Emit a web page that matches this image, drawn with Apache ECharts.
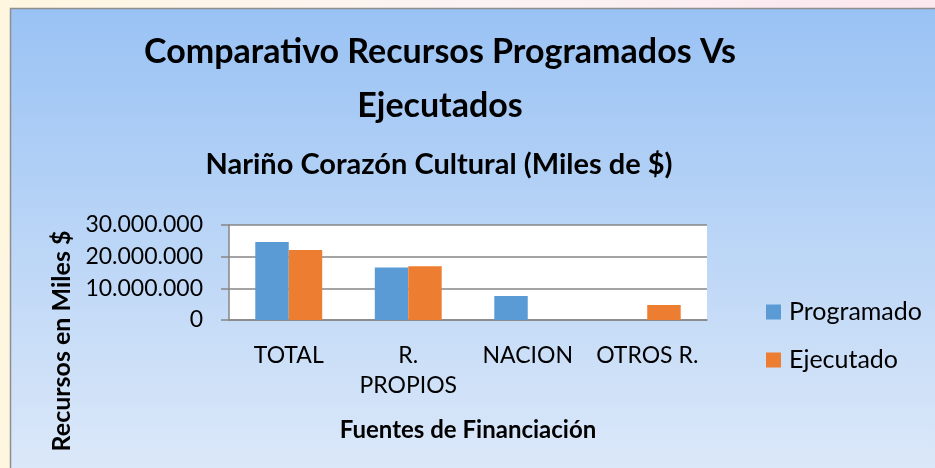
<!DOCTYPE html>
<html>
<head>
<meta charset="utf-8">
<script src="https://cdn.jsdelivr.net/npm/echarts@6/dist/echarts.min.js"></script>
<style>
  html, body { margin: 0; padding: 0; background: #fffdf7; }
  #chart { width: 935px; height: 468px; }
</style>
</head>
<body>
<div id="chart"></div>
<script>
// Funding sources and amounts (miles de $)
const categories = ['TOTAL', 'R.\nPROPIOS', 'NACION', 'OTROS R.'];
const programado = [24600000, 16600000, 7600000, 0];
const ejecutado = [22100000, 17000000, 0, 4700000];
const seriesNames = ['Programado', 'Ejecutado'];

const FONT = 'Lato, "Open Sans", sans-serif';

// 30000000 -> "30.000.000"
function miles(v) {
  return String(Math.round(v)).replace(/\B(?=(\d{3})+(?!\d))/g, '.');
}

const chart = echarts.init(document.getElementById('chart'), null, { renderer: 'canvas' });

chart.setOption({
  animation: false,
  backgroundColor: 'transparent',
  textStyle: { fontFamily: FONT },
  graphic: [
    // page strips around the chart frame
    { type: 'rect', z: -10, shape: { x: 0, y: 0, width: 935, height: 468 },
      style: { fill: new echarts.graphic.LinearGradient(0, 0, 1, 0, [
        { offset: 0, color: '#fff6e0' }, { offset: 0.5, color: '#fbf3f4' }, { offset: 1, color: '#fbe7ee' }
      ]) } },
    // chart frame with blue gradient
    { type: 'rect', z: -9, shape: { x: 10.5, y: 8.5, width: 940, height: 470 },
      style: { stroke: '#8e8e8e', lineWidth: 1.5,
        fill: new echarts.graphic.LinearGradient(0, 0, 0, 1, [
          { offset: 0, color: '#99c2f4' }, { offset: 1, color: '#dde9f9' }
        ]) } },
    // plot area background
    { type: 'rect', z: -8, shape: { x: 229, y: 225, width: 478, height: 95 },
      style: { fill: '#ffffff' } },
    // value axis title
    { type: 'text', x: 62, y: 341, rotation: Math.PI / 2,
      style: { text: 'Recursos en Miles $', fontFamily: FONT, fontWeight: 'bold', fontSize: 25,
        fill: '#000000', align: 'center', verticalAlign: 'middle' } }
  ],
  title: [
    { text: 'Comparativo Recursos Programados Vs\nEjecutados', left: 435, top: 20, textAlign: 'center',
      textStyle: { fontFamily: FONT, fontWeight: 'bold', fontSize: 34, lineHeight: 54, color: '#000000' } },
    { text: 'Nariño Corazón Cultural (Miles de $)', left: 434, top: 143, textAlign: 'center',
      textStyle: { fontFamily: FONT, fontWeight: 'bold', fontSize: 29, lineHeight: 34, color: '#000000' } }
  ],
  legend: {
    orient: 'vertical', left: 761, top: 293, itemGap: 20,
    itemWidth: 15, itemHeight: 15, icon: 'rect',
    data: seriesNames,
    textStyle: { fontFamily: FONT, fontSize: 25, lineHeight: 28, color: '#000000', padding: [0, 0, 0, 3] }
  },
  grid: { left: 229, right: 228, top: 225, bottom: 148, containLabel: false },
  xAxis: {
    type: 'category', data: categories,
    axisLine: { lineStyle: { color: '#868686', width: 1.5 } },
    axisTick: { show: false },
    axisLabel: { color: '#000000', fontSize: 23, lineHeight: 30, margin: 21, interval: 0 },
    name: 'Fuentes de Financiación', nameLocation: 'middle', nameGap: 98,
    nameTextStyle: { fontFamily: FONT, fontWeight: 'bold', fontSize: 24, color: '#000000' }
  },
  yAxis: {
    type: 'value', min: 0, max: 30000000, interval: 10000000,
    axisLine: { show: true, lineStyle: { color: '#868686', width: 1.5 } },
    axisTick: { show: true, length: 8, lineStyle: { color: '#868686', width: 1.5 } },
    splitLine: { lineStyle: { color: '#868686', width: 1.5 } },
    axisLabel: { color: '#000000', fontSize: 23, margin: 26, formatter: miles }
  },
  series: [
    { name: seriesNames[0], type: 'bar', data: programado, barGap: '0%', barCategoryGap: '44%',
      itemStyle: { color: '#5b9bd5' } },
    { name: seriesNames[1], type: 'bar', data: ejecutado,
      itemStyle: { color: '#ed7d31' } }
  ]
});
</script>
</body>
</html>
